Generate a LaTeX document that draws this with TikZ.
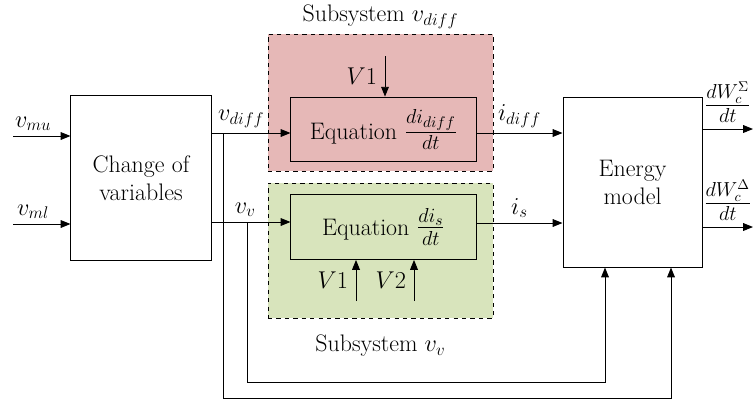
\documentclass[tikz,border=0pt]{standalone}
\usepackage{amsmath}
\usepackage{amssymb}
\usetikzlibrary{arrows.meta,positioning}
\definecolor{diffred}{RGB}{230,184,183}
\definecolor{vvgreen}{RGB}{216,228,188}

\begin{document}
\begin{tikzpicture}[x=0.025cm, y=-0.025cm,
    font=\fontsize{17}{20}\selectfont,
    line width=0.7pt,
    >={Triangle[length=7pt,width=5.5pt]},
    blockbox/.style={draw, align=center, inner sep=0pt},
    subsys/.style={draw, dashed, line width=0.6pt, inner sep=0pt,
                   minimum width=5.625cm},
    eqbox/.style={draw, minimum width=4.625cm, minimum height=1.62cm, inner sep=0pt},
    fracbig/.style={font=\fontsize{20}{23}\selectfont}]

    \useasboundingbox (0,0) rectangle (753,403);

    % Subsystem regions
    \node[subsys, fill=diffred, minimum height=3.425cm] (sdiff) at (380.5,102.5) {};
    \node[subsys, fill=vvgreen, minimum height=3.375cm] (sv) at (380.5,250.5) {};
    \node[above=0pt of sdiff] (tdiff) {Subsystem $v_{diff}$};
    \node[below=8pt of sv] (tv) {Subsystem $v_v$};

    % Blocks
    \node[blockbox, minimum width=3.5cm, minimum height=4.1cm] (chg) at (141,178) {Change of\\variables};
    \node[blockbox, minimum width=3.475cm, minimum height=4.225cm] (nrg) at (632.5,182.5) {Energy\\model};
    \node[eqbox] (eq1) at (383.5,129.5) {Equation {\fontsize{22}{25}\selectfont$\frac{di_{diff}}{dt}$}};
    \node[eqbox] (eq2) at (383.5,227) {Equation {\fontsize{22}{25}\selectfont$\frac{di_{s}}{dt}$}};

    % Inputs
    \coordinate (inmu) at (13,136);
    \coordinate (inml) at (13,224);
    \draw[->] (inmu) -- (chg.west |- inmu) node[pos=0.35, above] {$v_{mu}$};
    \draw[->] (inml) -- (chg.west |- inml) node[pos=0.35, above] {$v_{ml}$};

    % Change of variables to the subsystems
    \coordinate (jd) at (223,133);
    \coordinate (jv) at (247,222);
    \draw[->] (chg.east |- jd) -- (eq1.west |- jd);
    \node[above right=0pt and 1pt of chg.east |- jd] (lvd) {$v_{diff}$};
    \draw[->] (chg.east |- jv) -- (eq2.west |- jv);
    \node[above right=0pt and 13pt of chg.east |- jv] (lvv) {$v_v$};

    % Currents to the energy model
    \draw[->] (eq1.east |- jd) -- (nrg.west |- jd) node[midway, above] {$i_{diff}$};
    \draw[->] (eq2.east |- 0,223) -- (nrg.west |- 0,223) node[midway, above] {$i_s$};

    % Parameters
    \coordinate (v1a) at (385,56);
    \coordinate (v1b) at (356,301);
    \coordinate (v2b) at (414,301);
    \draw[->] (v1a) -- (v1a |- eq1.north) node[midway, left=2pt] {$V1$};
    \draw[->] (v1b) -- (v1b |- eq2.south) node[midway, left=2pt] {$V1$};
    \draw[->] (v2b) -- (v2b |- eq2.south) node[midway, left=2pt] {$V2$};

    % Outputs
    \coordinate (osig) at (753,129);
    \coordinate (odel) at (753,227);
    \draw[->] (nrg.east |- osig) -- (osig) node[midway, above=1pt, fracbig] {$\frac{dW_c^{\Sigma}}{dt}$};
    \draw[->] (nrg.east |- odel) -- (odel) node[midway, above=1pt, fracbig] {$\frac{dW_c^{\Delta}}{dt}$};

    % Feedback of the voltages
    \coordinate (fb1) at (605,382);
    \coordinate (fb2) at (671,398);
    \draw[->] (jv) |- (fb1) -- (fb1 |- nrg.south);
    \draw[->] (jd) |- (fb2) -- (fb2 |- nrg.south);
\end{tikzpicture}
\end{document}
